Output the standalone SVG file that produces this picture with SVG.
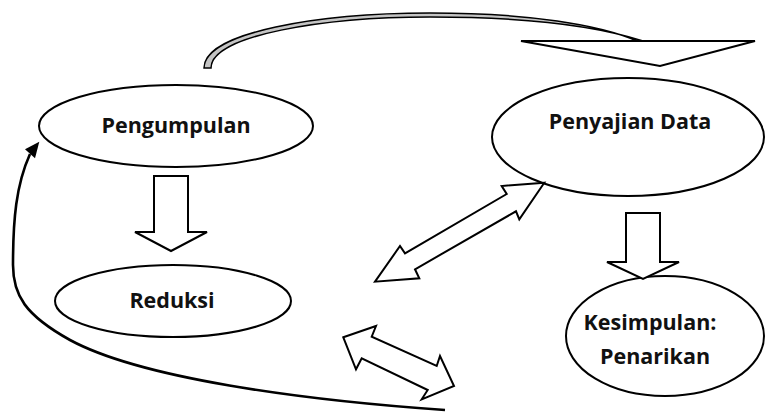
<svg xmlns="http://www.w3.org/2000/svg" width="766" height="414" viewBox="0 0 766 414">
<style>
.node ellipse{fill:#fff;stroke:#000;stroke-width:2}
.lbl{font-family:"Open Sans","Liberation Sans",sans-serif;font-weight:bold;font-size:21.5px;fill:#111;text-anchor:middle}
.blk{fill:#fff;stroke:#000;stroke-width:2;stroke-linejoin:miter}
</style>
<rect width="766" height="414" fill="#fff"/>
<g id="node-pengumpulan" class="node">
<ellipse cx="176" cy="126" rx="137" ry="41"/>
<text class="lbl" x="176" y="133">Pengumpulan</text>
</g>
<g id="node-penyajian" class="node">
<ellipse cx="628" cy="137" rx="136" ry="59"/>
<text class="lbl" x="630" y="129">Penyajian Data</text>
</g>
<g id="node-reduksi" class="node">
<ellipse cx="173" cy="301" rx="118" ry="36"/>
<text class="lbl" x="172" y="308">Reduksi</text>
</g>
<g id="node-kesimpulan" class="node">
<ellipse cx="665" cy="336" rx="99" ry="60"/>
<text class="lbl" x="650" y="330">Kesimpulan:</text>
<text class="lbl" x="655" y="364">Penarikan</text>
</g>
<g id="connectors">
<path d="M204,68 C204,32 320,13 430,13 C530,13 600,25 637,41 L643,41 C600,27 530,17 430,17 C325,17 211,35 211,68 Z" fill="#c4c4c4" stroke="#000" stroke-width="1.5"/>
<polygon class="blk" points="521,41 755,41 660,66"/>
<polygon class="blk" points="154,176 188,176 188,232 207,232 171,251 135,232 154,232"/>
<polygon class="blk" points="626,213 660,213 660,262 679,262 643,279 607,262 626,262"/>
<polygon class="blk" points="544.3,182.7 501.7,186 506.7,194 405,253.3 400,246 375,281.7 419.3,278.3 415,269.3 516,211.3 519.3,219.3"/>
<polygon class="blk" points="343.3,337.3 376,326 371.7,336.7 436.7,366 440,356 454,386 421.7,399.3 427.7,390 361.7,358.3 356,369.3"/>
<path d="M445,410 C300,400 140,378 70,340 C25,315 13,295 13,265 C13,220 16,185 30,154" fill="none" stroke="#000" stroke-width="2.6"/>
<polygon points="39.3,141.7 25,149.3 35,158.3" fill="#000"/>
</g>
</svg>
